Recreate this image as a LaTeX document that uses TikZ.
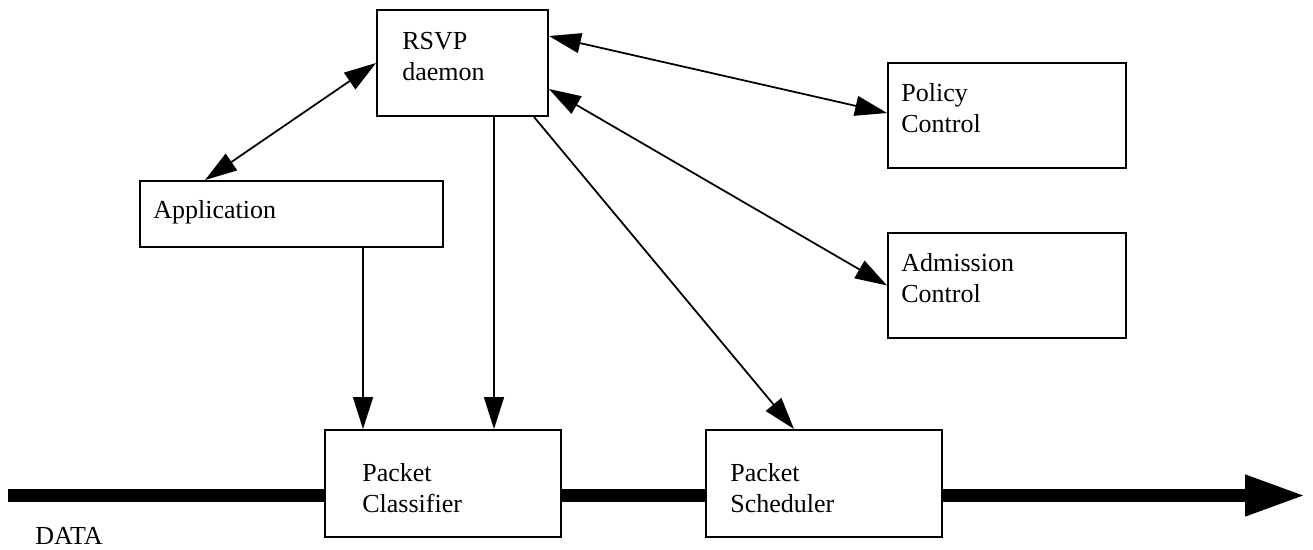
\documentclass[tikz,border=0pt]{standalone}
\usepackage{fontspec}
\setmainfont{Liberation Serif}
\usetikzlibrary{arrows.meta}
\pgfdeclarelayer{background}
\pgfsetlayers{background,main}
\begin{document}
\begin{tikzpicture}[x=0.02cm,y=-0.02cm,
    >={Triangle[length=0.64cm,width=0.4cm]},
    box/.style={draw,line width=1.1pt,fill=white,inner sep=0pt},
    txt/.style={anchor=base west,align=left,inner sep=0pt,font=\fontsize{14.8}{17.9}\selectfont},
    link/.style={line width=1pt},
    databar/.style={line width=7.4pt,-{Triangle[length=1.22cm,width=0.76cm]}}]
      \useasboundingbox (0,0) rectangle (1313,550);
      \node[box,minimum width=3.42cm,minimum height=2.12cm] (rsvp) at (462.5,63) {};
      \node[box,minimum width=6.06cm,minimum height=1.32cm] (app) at (291.5,214) {};
      \node[box,minimum width=4.76cm,minimum height=2.10cm] (policy) at (1007,115.5) {};
      \node[box,minimum width=4.76cm,minimum height=2.10cm] (adm) at (1007,285.5) {};
      \node[box,minimum width=4.72cm,minimum height=2.14cm] (cls) at (443,483.5) {};
      \node[box,minimum width=4.72cm,minimum height=2.14cm] (sch) at (824,483.5) {};
      % base anchor sits on the last line
      \node[txt] (rsvptext) at (402,81) {RSVP\\daemon};
      \node[txt] (apptext) at (153,219) {Application};
      \node[txt] (policytext) at (901,133) {Policy\\Control};
      \node[txt] (admtext) at (901,303) {Admission\\Control};
      \node[txt] (clstext) at (362,513) {Packet\\Classifier};
      \node[txt] (schtext) at (730,513) {Packet\\Scheduler};
      \node[txt] (datatext) at (35,545) {DATA};
      % data path
      \coordinate (datain) at (8,495.5);
      \coordinate (dataout) at (1306,495.5);
      \begin{pgfonlayer}{background}
        \draw[databar] (datain) -- (dataout);
      \end{pgfonlayer}
      % control links
      \draw[link,<->] ([xshift=1.32cm]app.north west) -- (rsvp.west);
      \draw[link,<->] ([yshift=0.54cm]rsvp.east) -- ([yshift=0.05cm]policy.west);
      \draw[link,<->] ([yshift=-0.52cm]rsvp.east) -- (adm.west);
      \draw[link,->] ([xshift=1.43cm]app.south) -- ([xshift=-1.6cm]cls.north);
      \draw[link,->] ([xshift=0.63cm]rsvp.south) -- ([xshift=1.02cm]cls.north);
      \draw[link,->] ([xshift=1.43cm]rsvp.south) -- ([xshift=-0.6cm]sch.north);
    \end{tikzpicture}
\end{document}
